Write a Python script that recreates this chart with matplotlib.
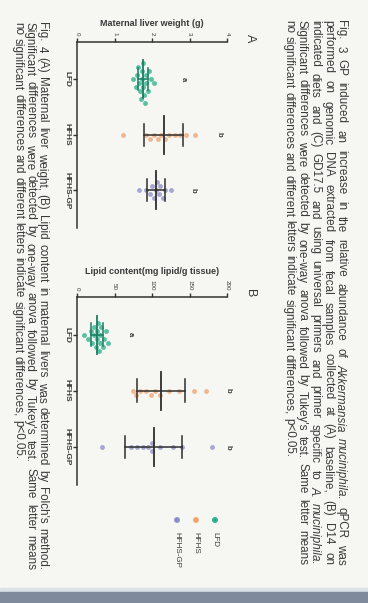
import numpy as np
import matplotlib
matplotlib.use("Agg")
import matplotlib.pyplot as plt
from matplotlib.font_manager import FontProperties

# page photo, rotated a quarter turn: value axes run left->right, groups top->bottom
W, H = 368, 603
plt.rcParams['font.family'] = ['Liberation Sans', 'DejaVu Sans']

groups = ["LFD", "HFHS", "HFHS-GP"]
colors = ["#27b088", "#eda473", "#8d8dc8"]
bar_colors = ["#1c7d60", "#2e2e2e", "#2e2e2e"]

# panel A: maternal liver weight (g)
liver_lfd = [1.50, 1.56, 1.60, 1.63, 1.66, 1.68, 1.70, 1.72, 1.74, 1.76, 1.77, 1.79, 1.81, 1.83, 1.85, 1.88, 1.91, 1.96, 2.05]
liver_hfhs = [1.23, 1.85, 1.95, 2.05, 2.15, 2.25, 2.35, 2.45, 2.60, 2.75, 2.90, 3.15]
liver_gp = [1.65, 1.85, 1.95, 2.00, 2.05, 2.10, 2.12, 2.18, 2.22, 2.30, 2.35, 2.50]
liver_ticks = [0, 1, 2, 3, 4]
liver_letters = ["a", "b", "b"]
liver_letter_at = [2.83, 3.8, 3.1]

# panel B: lipid content (mg lipid / g tissue)
lipid_lfd = [9, 15, 18, 20, 22, 23, 25, 26, 27, 28, 29, 30, 31, 32, 34, 36, 38, 41]
lipid_hfhs = [74, 78, 84, 92, 98, 104, 110, 122, 136, 156, 172]
lipid_gp = [33, 72, 80, 88, 95, 100, 100, 110, 128, 140, 180]
lipid_ticks = [0, 50, 100, 150, 200]
lipid_letters = ["a", "b", "b"]
lipid_letter_at = [71, 201, 201]

fig3_lines = [
    "Fig. 3 GP induced an increase in the relative abundance of Akkermansia muciniphila. qPCR was",
    "performed on genomic DNA extracted from fecal samples collected at (A) baseline, (B) D14 on",
    "indicated diets and (C) GD17.5 and using universal primers and primer specific to A. muciniphila.",
    "Significant differences were detected by one-way anova followed by Tukey's test. Same letter means",
    "no significant differences and different letters indicate significant differences, p<0.05.",
]
fig4_lines = [
    "Fig. 4 (A) Maternal liver weight, (B) Lipid content in maternal livers was determined by Folch's method.",
    "Significant differences were detected by one-way anova followed by Tukey's test. Same letter means",
    "no significant differences and different letters indicate significant differences, p<0.05.",
]
italic_words = {"Akkermansia", "muciniphila.", "A."}

ink = "#3a3a3a"
paper = "#f6f6f3"


def fx(px):
    return px / W


def fy(py):
    return 1 - py / H


def swarm(vals, px_per_val, px_per_group, d=5.0):
    # simple beeswarm: offset each point sideways until it clears the others
    order = np.argsort(vals)
    placed = []
    off = np.zeros(len(vals))
    for k in order:
        v = vals[k] * px_per_val
        for step in [0, 1, -1, 2, -2, 3, -3, 4, -4, 5, -5, 6, -6]:
            o = step * d * 0.8
            if all((v - pv) ** 2 + (o - po) ** 2 >= d * d for pv, po in placed):
                break
        placed.append((v, o))
        off[k] = o / px_per_group
    return off


fig = plt.figure(figsize=(W / 100, H / 100), dpi=100)
fig.patch.set_facecolor(paper)

# page edge at the bottom of the photo
fig.patches.append(plt.Rectangle((0, 0), 1, fy(588), transform=fig.transFigure,
                                 color="#dde2e8", zorder=0))
fig.patches.append(plt.Rectangle((0, 0), 1, fy(592), transform=fig.transFigure,
                                 color="#7f8b9c", zorder=0))


def panel(top, bottom, data, ticks, label, letters, letter_at, panel_letter):
    ax = fig.add_axes([fx(77), fy(bottom), fx(227) - fx(77), fy(top) - fy(bottom)])
    ax.set_facecolor("none")
    ax.set_xlim(ticks[0], ticks[-1])
    ax.set_ylim(3.68, 0.33)
    px_per_val = 150 / (ticks[-1] - ticks[0])
    px_per_group = (bottom - top) / (3.68 - 0.33)
    for i, vals in enumerate(data):
        vals = np.array(vals, dtype=float)
        pos = i + 1
        off = swarm(vals, px_per_val, px_per_group)
        ax.scatter(vals, pos + off, s=9, facecolor=colors[i], edgecolors=colors[i],
                   alpha=0.75, linewidths=0.4, zorder=2)
        m = vals.mean()
        sd = vals.std(ddof=1)
        ax.plot([m, m], [pos - 0.34, pos + 0.34], color=bar_colors[i], lw=1.3, zorder=3)
        ax.plot([m - sd, m + sd], [pos, pos], color=bar_colors[i], lw=1.1, zorder=3)
        for e in (m - sd, m + sd):
            ax.plot([e, e], [pos - 0.2, pos + 0.2], color=bar_colors[i], lw=1.1, zorder=3)
        ax.text(letter_at[i], pos, letters[i], rotation=-90, ha="center", va="center",
                fontsize=5.5, color=ink, fontweight="bold")

    for s in ["right", "bottom"]:
        ax.spines[s].set_visible(False)
    for s in ["top", "left"]:
        ax.spines[s].set_color("#333333")
        ax.spines[s].set_linewidth(1.1)
    ax.xaxis.tick_top()
    ax.xaxis.set_label_position("top")
    ax.set_xticks(ticks)
    ax.set_xticklabels([str(t) for t in ticks], rotation=-90, fontsize=4.5, color=ink)
    for t in ax.get_xticklabels():
        t.set_va("bottom")
        t.set_ha("center")
    ax.set_xlabel(label, fontsize=6.5, fontweight="bold", color=ink, labelpad=4)
    ax.set_yticks([1, 2, 3])
    ax.set_yticklabels(groups, rotation=-90, fontsize=6, fontweight="bold", color=ink)
    for t in ax.get_yticklabels():
        t.set_va("center")
    ax.tick_params(axis="both", length=3, width=1, color="#333333", pad=2)
    fig.text(fx(250), fy(top - 4), panel_letter, rotation=-90, ha="center", va="center",
             fontsize=9, color=ink)
    return ax


panel(42, 228, [liver_lfd, liver_hfhs, liver_gp], liver_ticks,
      "Maternal liver weight (g)", liver_letters, liver_letter_at, "A")
panel(297, 485, [lipid_lfd, lipid_hfhs, lipid_gp], lipid_ticks,
      "Lipid content(mg lipid/g tissue)", lipid_letters, lipid_letter_at, "B")

# legend of the page, drawn by hand because it is rotated
for i, g in enumerate(groups):
    x = fx(215 - 19 * i)
    fig.patches.append(plt.Circle((215 - 19 * i, H - 520), 2.2, transform=None,
                                  color=colors[i], zorder=5))
    fig.text(x, fy(532), g, rotation=-90, rotation_mode="anchor", ha="left",
             va="center", fontsize=5.8, color=ink)

# captions, justified word by word
fig.canvas.draw()
r = fig.canvas.get_renderer()
cap_size = 8.4


def prop(word):
    return FontProperties(family="Liberation Sans", size=cap_size,
                          style="italic" if word in italic_words else "normal")


def caption(lines, xs, y0, y1):
    for n, (line, x) in enumerate(zip(lines, xs)):
        words = line.split()
        widths = [r.get_text_width_height_descent(w, prop(w), ismath=False)[0] for w in words]
        space = r.get_text_width_height_descent("a a", prop("a"), ismath=False)[0] - \
            2 * r.get_text_width_height_descent("a", prop("a"), ismath=False)[0]
        if n < len(lines) - 1:
            gap = (y1 - y0 - sum(widths)) / (len(words) - 1)
        else:
            gap = space
        y = y0
        for w, wd in zip(words, widths):
            fig.text(fx(x), fy(y), w, rotation=-90, rotation_mode="anchor", ha="left",
                     va="center", fontproperties=prop(w), color=ink)
            y += wd + gap


caption(fig3_lines, [341, 328, 315, 302, 289], 20, 565)
caption(fig4_lines, [42, 30, 18], 22, 570)

fig.savefig("out.png", dpi=100, facecolor=fig.get_facecolor())
